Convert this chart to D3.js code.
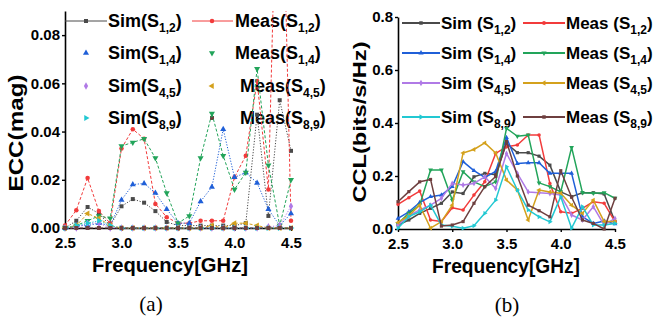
<!DOCTYPE html>
<html>
<head>
<meta charset="utf-8">
<script src="https://cdn.jsdelivr.net/npm/d3@7"></script>
<style>
  body { margin: 0; background: #fff; }
  svg { display: block; font-family: "Liberation Sans", Arial, sans-serif; }
</style>
</head>
<body>
<script>
'use strict';

// frequency points (GHz), shared by both panels
const freq = [2.5, 2.6, 2.7, 2.8, 2.9, 3.0, 3.1, 3.2, 3.3, 3.4, 3.5,
              3.6, 3.7, 3.8, 3.9, 4.0, 4.1, 4.2, 4.3, 4.4, 4.5];

// panel (a): ECC (mag)
const eccSimS12  = [0.000, 0.003, 0.0087, 0.006, 0.001, 0.009, 0.012, 0.0105, 0.007, 0.0025, 0.001,
                    0.001, 0.001, 0.001, 0.001, 0.001, 0.002, 0.047, 0.005, 0.053, 0.032];
const eccMeasS12 = [0.001, 0.0074, 0.0207, 0.007, 0.002, 0.033, 0.041, 0.037, 0.010, 0.0045, 0.002,
                    0.002, 0.003, 0.003, 0.003, 0.021, 0.030, 0.061, 0.016, 0.200, 0.003];
const eccSimS14  = [0.000, 0.001, 0.001, 0.002, 0.001, 0.0116, 0.018, 0.0185, 0.0145, 0.0078, 0.002,
                    0.002, 0.011, 0.017, 0.041, 0.021, 0.023, 0.0187, 0.0078, 0.001, 0.006];
const eccMeasS14 = [0.000, 0.001, 0.003, 0.005, 0.004, 0.034, 0.0355, 0.037, 0.029, 0.0145, 0.002,
                    0.005, 0.029, 0.0475, 0.030, 0.016, 0.023, 0.066, 0.026, 0.001, 0.020];
const eccSimS45  = [0, 0, 0.002, 0.002, 0, 0, 0, 0, 0, 0, 0,
                    0, 0, 0, 0, 0, 0, 0, 0.0005, 0.001, 0.009];
const eccMeasS45 = [0, 0.001, 0.006, 0.004, 0.001, 0, 0, 0, 0, 0, 0,
                    0, 0, 0.001, 0, 0.002, 0.002, 0.001, 0, 0, 0];
const eccSimS89  = [0, 0.001, 0.002, 0.003, 0.001, 0, 0, 0, 0, 0, 0,
                    0, 0, 0, 0, 0, 0, 0, 0, 0, 0];
const eccMeasS89 = [0, 0, 0, 0, 0, 0, 0, 0, 0, 0, 0,
                    0, 0, 0, 0, 0, 0, 0, 0, 0, 0];

// panel (b): CCL (bits/s/Hz)
const cclSimS12  = [0.015, 0.034, 0.059, 0.078, 0.097, 0.140, 0.134, 0.197, 0.210, 0.205, 0.323,
                    0.288, 0.288, 0.275, 0.241, 0.140, 0.122, 0.137, 0.137, 0.132, 0.028];
const cclMeasS12 = [0.093, 0.118, 0.143, 0.034, 0.028, 0.080, 0.072, 0.128, 0.178, 0.285, 0.310,
                    0.317, 0.355, 0.355, 0.172, 0.065, 0.059, 0.078, 0.103, 0.097, 0.028];
const cclSimS14  = [0.040, 0.065, 0.100, 0.122, 0.128, 0.160, 0.254, 0.220, 0.195, 0.217, 0.345,
                    0.247, 0.250, 0.250, 0.210, 0.210, 0.210, 0.046, 0.021, 0.030, 0.019];
const cclMeasS14 = [0.020, 0.060, 0.090, 0.223, 0.223, 0.109, 0.216, 0.178, 0.160, 0.178, 0.380,
                    0.350, 0.355, 0.174, 0.160, 0.140, 0.308, 0.137, 0.135, 0.137, 0.116];
const cclSimS45  = [0.015, 0.050, 0.072, 0.090, 0.116, 0.172, 0.166, 0.172, 0.197, 0.153, 0.285,
                    0.210, 0.140, 0.137, 0.134, 0.128, 0.053, 0.034, 0.084, 0.015, 0.040];
const cclMeasS45 = [0.025, 0.050, 0.090, 0.003, 0.028, 0.090, 0.287, 0.300, 0.325, 0.287, 0.185,
                    0.147, 0.034, 0.147, 0.140, 0.135, 0.090, 0.059, 0.109, 0.028, 0.028];
const cclSimS89  = [0.003, 0.047, 0.065, 0.090, 0.015, 0.010, 0.003, 0.012, 0.059, 0.109, 0.235,
                    0.147, 0.072, 0.046, 0.027, 0.122, 0.003, 0.084, 0.015, 0.015, 0.021];
const cclMeasS89 = [0.103, 0.141, 0.178, 0.187, 0.011, 0.015, 0.028, 0.097, 0.160, 0.198, 0.330,
                    0.200, 0.090, 0.069, 0.046, 0.220, 0.120, 0.034, 0.021, 0.000, 0.116];

// tick values
const freqTicks = [2.5, 3.0, 3.5, 4.0, 4.5];
const eccTicks = [0, 0.02, 0.04, 0.06, 0.08];
const cclTicks = [0, 0.2, 0.4, 0.6, 0.8];

// legend subscripts, one per row
const portPairs = ["1,2", "1,4", "4,5", "8,9"];

(function () {

  let svg = d3.select("body").append("svg")
    .attr("width", 655)
    .attr("height", 322);

  svg.append("rect").attr("width", 655).attr("height", 322).attr("fill", "#fff");

  // marker style per legend slot: [row][0 = Sim, 1 = Meas]
  let styles = [
    [{ c: "#4a4a4a", s: d3.symbolSquare, r: 0 },   { c: "#f23b3b", s: d3.symbolCircle, r: 0 }],
    [{ c: "#1f5fd8", s: d3.symbolTriangle, r: 0 }, { c: "#22a45a", s: d3.symbolTriangle, r: 180 }],
    [{ c: "#b07ae6", s: d3.symbolDiamond, r: 0 },  { c: "#d4a11c", s: d3.symbolTriangle, r: -90 }],
    [{ c: "#22c8d2", s: d3.symbolTriangle, r: 90 }, { c: "#6e3f3f", s: d3.symbolSquare, r: 0 }]
  ];

  let eccData = [[eccSimS12, eccMeasS12], [eccSimS14, eccMeasS14],
                 [eccSimS45, eccMeasS45], [eccSimS89, eccMeasS89]];
  let cclData = [[cclSimS12, cclMeasS12], [cclSimS14, cclMeasS14],
                 [cclSimS45, cclMeasS45], [cclSimS89, cclMeasS89]];

  // ---------- panel (a) ----------
  let xA = d3.scaleLinear().domain([2.5, 4.5]).range([65, 291]);
  let yA = d3.scaleLinear().domain([0, 0.09]).range([228, 11]);

  drawAxes(xA, yA, freqTicks, eccTicks, d3.format(".2f"), 15);

  // legend (a): only first row has line samples
  let legA = svg.append("g");
  let rowsA = [21, 53, 86, 118];
  portPairs.forEach((p, i) => {
    let sim = styles[i][0], meas = styles[i][1];
    if (i === 0) {
      legA.append("line").attr("x1", 65).attr("x2", 107).attr("y1", rowsA[i]).attr("y2", rowsA[i])
        .attr("stroke", sim.c).attr("stroke-width", 1);
      legA.append("line").attr("x1", 192).attr("x2", 233).attr("y1", rowsA[i]).attr("y2", rowsA[i])
        .attr("stroke", meas.c).attr("stroke-width", 1);
    }
    marker(legA, 86, rowsA[i], sim, 16);
    marker(legA, 212, rowsA[i], meas, 16);
    legendText(legA, 108, rowsA[i] + 6, "Sim(S", p, 18, 12);
    legendText(legA, i < 2 ? 235 : 240, rowsA[i] + 6, "Meas(S", p, 18, 12);
  });

  svg.append("clipPath").attr("id", "clipA").append("rect")
    .attr("x", 58).attr("y", 11).attr("width", 240).attr("height", 225);
  let plotA = svg.append("g").attr("clip-path", "url(#clipA)");
  eccData.forEach((pair, i) => {
    pair.forEach((vals, k) => {
      let st = styles[i][k];
      let pts = vals.map((v, j) => [freq[j], v]);
      plotA.append("path")
        .datum(pts)
        .attr("fill", "none")
        .attr("stroke", st.c)
        .attr("stroke-width", 1)
        .attr("stroke-dasharray", k === 0 ? "1.2,1.6" : "3,2")
        .attr("d", d3.line().x(d => xA(d[0])).y(d => yA(d[1])));
      pts.forEach(d => marker(plotA, xA(d[0]), yA(d[1]), st, 16));
    });
  });

  axisTitles(170, 272, "Frequency[GHz]", 156, 23, 133, "ECC(mag)", 117, 21);

  svg.append("text")
    .attr("x", 151).attr("y", 311)
    .attr("text-anchor", "middle")
    .style("font-family", "'Liberation Serif', 'Times New Roman', serif")
    .style("font-size", "21px")
    .text("(a)");

  // ---------- panel (b) ----------
  let xB = d3.scaleLinear().domain([2.5, 4.5]).range([398, 615]);
  let yB = d3.scaleLinear().domain([0, 0.8]).range([229, 17]);

  drawAxes(xB, yB, freqTicks, cclTicks, d3.format(".1f"), 15);

  let legB = svg.append("g");
  let rowsB = [23, 53, 83, 117];
  portPairs.forEach((p, i) => {
    let sim = styles[i][0], meas = styles[i][1];
    legB.append("line").attr("x1", 402).attr("x2", 440).attr("y1", rowsB[i]).attr("y2", rowsB[i])
      .attr("stroke", sim.c).attr("stroke-width", 2);
    legB.append("line").attr("x1", 523).attr("x2", 565).attr("y1", rowsB[i]).attr("y2", rowsB[i])
      .attr("stroke", meas.c).attr("stroke-width", 2);
    marker(legB, 421, rowsB[i], sim, 12);
    marker(legB, 544, rowsB[i], meas, 12);
    legendText(legB, 441, rowsB[i] + 6, "Sim (S", p, 17, 12);
    legendText(legB, 566, rowsB[i] + 6, "Meas (S", p, 17, 12);
  });

  let plotB = svg.append("g");
  cclData.forEach((pair, i) => {
    pair.forEach((vals, k) => {
      let st = styles[i][k];
      let pts = vals.map((v, j) => [freq[j], v]);
      plotB.append("path")
        .datum(pts)
        .attr("fill", "none")
        .attr("stroke", st.c)
        .attr("stroke-width", 1.5)
        .attr("stroke-linejoin", "round")
        .attr("d", d3.line().x(d => xB(d[0])).y(d => yB(d[1])));
      pts.forEach(d => marker(plotB, xB(d[0]), yB(d[1]), st, 10));
    });
  });

  axisTitles(506, 273, "Frequency[GHz]", 148, 366, 122, "CCL(bits/s/Hz)", 161, 19);

  svg.append("text")
    .attr("x", 507).attr("y", 312)
    .attr("text-anchor", "middle")
    .style("font-family", "'Liberation Serif', 'Times New Roman', serif")
    .style("font-size", "21px")
    .text("(b)");

  // draw left and bottom axes for one panel
  function drawAxes(x, y, xt, yt, yFmt, fontSize) {
    let gx = svg.append("g")
      .attr("transform", "translate(0," + y.range()[0] + ")")
      .call(d3.axisBottom(x).tickValues(xt).tickFormat(d3.format(".1f"))
        .tickSize(3).tickSizeOuter(0).tickPadding(6));
    let gy = svg.append("g")
      .attr("transform", "translate(" + x.range()[0] + ",0)")
      .call(d3.axisLeft(y).tickValues(yt).tickFormat(yFmt)
        .tickSize(3).tickSizeOuter(0).tickPadding(2));
    [gx, gy].forEach(g => {
      g.select(".domain").attr("stroke", "#000").attr("stroke-width", 1.6);
      g.selectAll(".tick line").attr("stroke", "#000").attr("stroke-width", 1.4);
      g.selectAll(".tick text")
        .attr("fill", "#000")
        .style("font-family", "'Liberation Sans', Arial, sans-serif")
        .style("font-weight", "bold")
        .style("font-size", fontSize + "px");
    });
  }

  function axisTitles(xx, xy, xLabel, xLen, yx, yy, yLabel, yLen, ySize) {
    svg.append("text")
      .attr("x", xx).attr("y", xy)
      .attr("text-anchor", "middle")
      .attr("textLength", xLen)
      .attr("lengthAdjust", "spacingAndGlyphs")
      .style("font-weight", "bold")
      .style("font-size", "20px")
      .text(xLabel);
    svg.append("text")
      .attr("transform", "translate(" + yx + "," + yy + ")rotate(-90)")
      .attr("text-anchor", "middle")
      .attr("textLength", yLen)
      .attr("lengthAdjust", "spacingAndGlyphs")
      .style("font-weight", "bold")
      .style("font-size", ySize + "px")
      .text(yLabel);
  }

  function marker(g, cx, cy, st, size) {
    g.append("path")
      .attr("d", d3.symbol().type(st.s).size(size)())
      .attr("transform", "translate(" + cx + "," + cy + ")rotate(" + st.r + ")")
      .attr("fill", st.c);
  }

  function legendText(g, x, y, head, sub, size, subSize) {
    let t = g.append("text")
      .attr("x", x).attr("y", y)
      .style("font-weight", "bold")
      .style("font-size", size + "px")
      .attr("fill", "#000");
    t.append("tspan").text(head);
    t.append("tspan").attr("dy", 5).style("font-size", subSize + "px").text(sub);
    t.append("tspan").attr("dy", -5).text(")");
  }

})();
</script>
</body>
</html>
